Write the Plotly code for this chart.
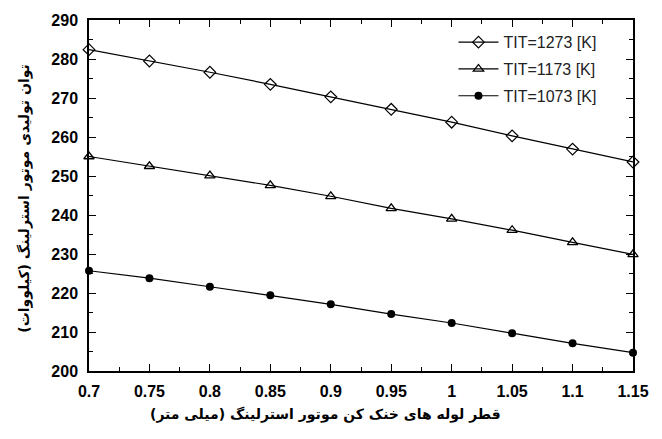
import plotly.graph_objects as go

# Cooling tube diameter (mm)
diameter = [0.7, 0.75, 0.8, 0.85, 0.9, 0.95, 1.0, 1.05, 1.1, 1.15]

# Stirling engine output power (kW) at three turbine inlet temperatures
power_1273 = [282.4, 279.5, 276.6, 273.5, 270.3, 267.1, 263.8, 260.3, 256.9, 253.6]
power_1173 = [255.0, 252.5, 250.1, 247.6, 244.8, 241.7, 239.0, 236.1, 233.0, 229.9]
power_1073 = [225.7, 223.8, 221.6, 219.4, 217.1, 214.6, 212.3, 209.7, 207.1, 204.7]

series_names = ["TIT=1273 [K]", "TIT=1173 [K]", "TIT=1073 [K]"]
x_ticks = [0.7, 0.75, 0.8, 0.85, 0.9, 0.95, 1, 1.05, 1.1, 1.15]
x_tick_text = ["0.7", "0.75", "0.8", "0.85", "0.9", "0.95", "1", "1.05", "1.1", "1.15"]
y_ticks = [200, 210, 220, 230, 240, 250, 260, 270, 280, 290]

x_title = "قطر لوله های خنک کن موتور استرلینگ (میلی متر)"
y_title = "توان تولیدی موتور استرلینگ (کیلووات)"

fig = go.Figure()

styles = [
    dict(symbol="diamond-open", size=9, color="black", line=dict(width=1.2, color="black")),
    dict(symbol="triangle-up-open", size=9, color="black", line=dict(width=1.3, color="black")),
    dict(symbol="circle", size=8, color="black", line=dict(width=0, color="black")),
]

for i, (name, ys, mk) in enumerate(zip(series_names, [power_1273, power_1173, power_1073], styles)):
    fig.add_trace(go.Scatter(
        x=diameter, y=ys, name=name, mode="lines+markers",
        line=dict(color="black", width=1.2),
        marker=mk,
        legendgroup=f"g{i}",
        cliponaxis=False,
    ))

axis_common = dict(
    showline=True, linecolor="black", linewidth=1.5, mirror="ticks",
    ticks="inside", ticklen=7, tickwidth=1.2, tickcolor="black",
    showgrid=False, zeroline=False,
    tickfont=dict(family="Liberation Sans, Arial", size=16, color="black", weight="bold"),
)

fig.update_xaxes(
    range=[0.7, 1.15], tickvals=x_ticks, ticktext=x_tick_text,
    minor=dict(ticks="inside", ticklen=4, tickwidth=1.2, tickcolor="black", dtick=0.025, tick0=0.7),
    ticklabelstandoff=5,
    **axis_common,
)
fig.update_yaxes(
    range=[200, 290], tickvals=y_ticks,
    minor=dict(ticks="inside", ticklen=4, tickwidth=1.2, tickcolor="black", dtick=5, tick0=200),
    ticklabelstandoff=6,
    **axis_common,
)

fig.add_annotation(
    text=x_title, xref="paper", yref="paper", x=0.434, y=-0.124,
    showarrow=False, xanchor="center", yanchor="middle",
    font=dict(family="DejaVu Sans", size=14, color="black", weight="bold"),
)
fig.add_annotation(
    text=y_title, xref="paper", yref="paper", x=-0.12, y=0.49,
    textangle=-90, showarrow=False, xanchor="center", yanchor="middle",
    font=dict(family="DejaVu Sans", size=14, color="black", weight="bold"),
)

fig.update_layout(
    width=662, height=439,
    margin=dict(l=89, r=29, t=15, b=68),
    paper_bgcolor="white", plot_bgcolor="white",
    showlegend=True,
    legend=dict(
        x=0.67, y=0.985, xanchor="left", yanchor="top",
        bgcolor="rgba(0,0,0,0)", borderwidth=0,
        traceorder="grouped", tracegroupgap=3,
        font=dict(family="Liberation Sans, Arial", size=16, color="#222"),
        itemwidth=40,
    ),
)

fig.write_html("out.html")
